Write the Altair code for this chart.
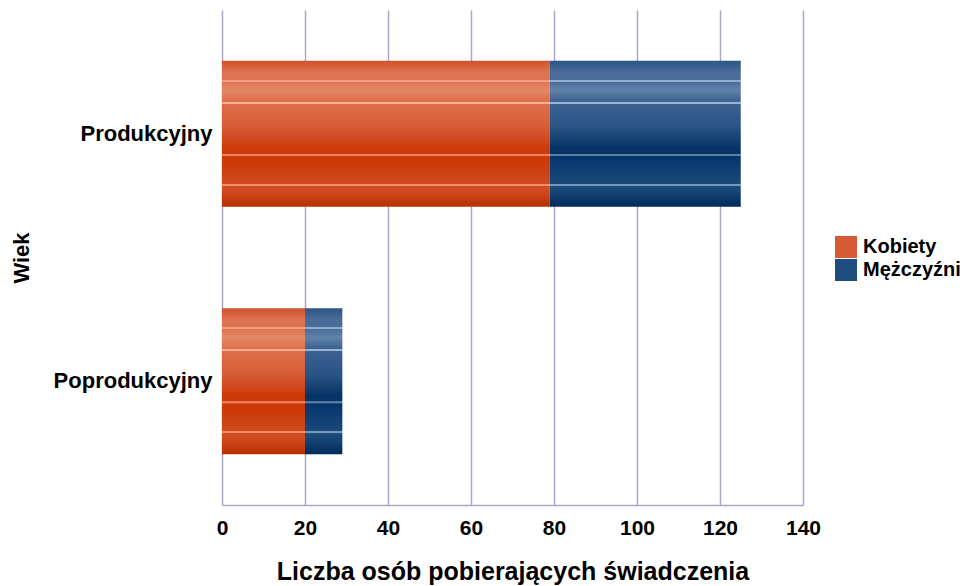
import altair as alt
import pandas as pd

categories = ["Produkcyjny", "Poprodukcyjny"]
kobiety = [79, 20]
mezczyzni = [46, 9]
series = ["Kobiety", "Mężczyźni"]

rows = []
for c, k, m in zip(categories, kobiety, mezczyzni):
    rows.append({"Wiek": c, "Płeć": series[0], "v": k, "o": 0})
    rows.append({"Wiek": c, "Płeć": series[1], "v": m, "o": 1})
df = pd.DataFrame(rows)

FONT = "Liberation Sans"
GRID = "#a8a8c8"


def striped(base_stops, stripe_color):
    stripes = [0.137, 0.287, 0.645, 0.85]
    pts = list(base_stops)

    def interp(t):
        for (o1, c1), (o2, c2) in zip(pts, pts[1:]):
            if o1 <= t <= o2:
                return c1 if (t - o1) < (o2 - t) else c2
        return pts[-1][1]

    all_stops = list(pts)
    for s, sc in zip(stripes, stripe_color):
        bc = interp(s)
        all_stops += [(s - 0.008, bc), (s - 0.006, sc), (s + 0.006, sc), (s + 0.008, bc)]
    all_stops.sort(key=lambda x: x[0])
    stops = [alt.GradientStop(color=c, offset=max(0, min(1, o))) for o, c in all_stops]
    return alt.Gradient(gradient="linear", stops=stops, x1=0, x2=0, y1=0, y2=1)


red = striped(
    [(0, "#d0502a"), (0.08, "#dd7352"), (0.2, "#e48866"), (0.3, "#de6e48"),
     (0.45, "#d65c36"), (0.6, "#cc3a0a"), (0.7, "#cc3a08"), (0.84, "#d04a1e"),
     (0.88, "#d44c22"), (1.0, "#b83000")],
    ["#f0a080", "#f4b090", "#e88460", "#f09068"],
)
blue = striped(
    [(0, "#2a5686"), (0.08, "#4a6c98"), (0.2, "#6282aa"), (0.3, "#3a6090"),
     (0.45, "#2a5484"), (0.6, "#063468"), (0.7, "#0a3a70"), (0.84, "#1a4a7a"),
     (0.88, "#1a4a7a"), (1.0, "#002a5a")],
    ["#90aed0", "#9ab4d4", "#5a80a8", "#7898bc"],
)

base = alt.Chart(df).transform_stack(
    stack="v", groupby=["Wiek"], as_=["x0", "x1"], sort=[alt.SortField("o")]
)

yenc = alt.Y(
    "Wiek:N",
    sort=categories,
    title="Wiek",
    scale=alt.Scale(paddingInner=0.41, paddingOuter=0.205),
    axis=alt.Axis(
        domain=False, ticks=False, labelFont=FONT, labelFontSize=22,
        labelFontWeight="bold", labelColor="black", labelPadding=10,
        titleFont=FONT, titleFontSize=22, titleFontWeight="bold",
        titleColor="black", titlePadding=20,
    ),
)
xenc = alt.X(
    "x0:Q",
    title="Liczba osób pobierających świadczenia",
    scale=alt.Scale(domain=[0, 140], nice=False),
    axis=alt.Axis(
        values=[0, 20, 40, 60, 80, 100, 120, 140], grid=True, gridColor=GRID,
        gridWidth=1.5, domain=True, domainColor=GRID, domainWidth=1.5,
        ticks=False, labelFont=FONT, labelFontSize=21, labelFontWeight="bold",
        labelColor="black", labelPadding=12, titleFont=FONT, titleFontSize=25,
        titleFontWeight="bold", titleColor="black", titlePadding=21,
        labelFlush=False,
    ),
)

bars_k = base.transform_filter(alt.datum["Płeć"] == series[0]).mark_bar(
    color=red
).encode(x=xenc, x2="x1:Q", y=yenc)
bars_m = base.transform_filter(alt.datum["Płeć"] == series[1]).mark_bar(
    color=blue
).encode(x=xenc, x2="x1:Q", y=yenc)

legend_layer = alt.Chart(df).mark_square(opacity=0, size=1).encode(
    color=alt.Color(
        "Płeć:N",
        scale=alt.Scale(domain=series, range=["#d65a34", "#1e4c7e"]),
        legend=alt.Legend(
            title=None, orient="none", legendX=613, legendY=226,
            symbolType="square", symbolSize=484,
            symbolOpacity=1, symbolStrokeWidth=0, labelFont=FONT,
            labelFontSize=20, labelFontWeight="bold", labelColor="black",
            rowPadding=1, padding=0, labelOffset=6, direction="vertical",
            labelLimit=200,
        ),
    ),
    y=alt.Y("Wiek:N", sort=categories),
)

chart = alt.layer(bars_k, bars_m, legend_layer).properties(
    width=581, height=495,
    autosize=alt.AutoSizeParams(type="none"),
    padding={"left": 214, "top": 2, "right": 160, "bottom": 80},
).configure_view(stroke=None)

chart.save("out.html", embed_options={"renderer": "svg", "actions": False})
